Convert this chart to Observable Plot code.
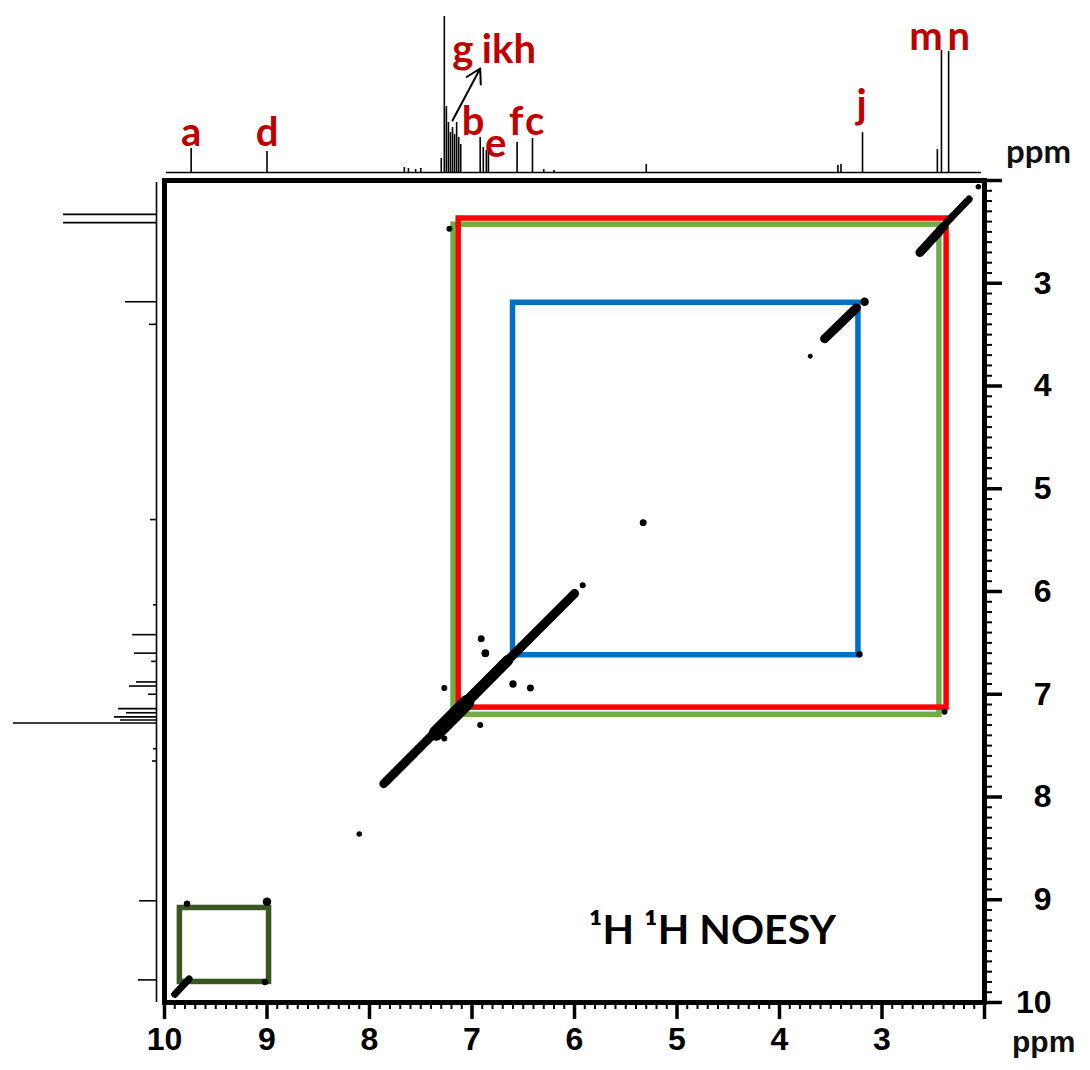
<!DOCTYPE html>
<html><head><meta charset="utf-8">
<script src="https://cdn.jsdelivr.net/npm/d3@7"></script>
<script src="https://cdn.jsdelivr.net/npm/@observablehq/plot@0.6"></script>
<style>
body{margin:0;background:#fff;}
#wrap{position:relative;width:1090px;height:1070px;overflow:hidden;background:#fff;}
#wrap > svg{position:absolute;left:0;top:0;overflow:visible;}
.ppm{position:absolute;color:#111;}
</style></head>
<body><div id="wrap"></div>
<script>
// ---------- data ----------
// 1D proton spectrum (top): peak positions (ppm) and heights (arbitrary intensity)
const topPpm = [9.74, 9.00, 7.66, 7.62, 7.55, 7.50, 7.30, 7.27, 7.25, 7.23, 7.21, 7.19, 7.17, 7.15, 7.13, 7.11, 6.92, 6.89, 6.86, 6.84, 6.56, 6.41, 6.30, 6.20, 5.30, 3.43, 3.40, 3.19, 2.46, 2.42, 2.35];
const topInt = [24, 21, 5, 4, 3, 4, 14, 156, 66, 50, 40, 45, 38, 50, 35, 28, 35, 25, 22, 20, 30, 34, 3, 2, 8, 7, 8, 40, 23, 122, 121];
const topExtent = [9.98, 2.03];
// 1D proton spectrum (left, F1)
const leftPpm = [2.33, 2.41, 3.18, 3.40, 5.30, 6.13, 6.42, 6.60, 6.68, 6.88, 6.92, 7.00, 7.14, 7.18, 7.22, 7.25, 7.28, 7.53, 7.65, 9.01, 9.78];
const leftInt = [93, 93, 31, 7, 6, 3, 24, 22, 5, 20, 27, 8, 38, 30, 42, 36, 143, 3, 4, 17, 18];
const leftExtent = [2.02, 10.0];
// peak assignment labels
const labelText = ["a", "d", "g", "ikh", "b", "e", "f", "c", "j", "m", "n"];
const labelPpm  = [9.74, 9.00, 7.09, 6.64, 6.99, 6.77, 6.57, 6.39, 3.20, 2.57, 2.25];
const labelInt  = [39, 39, 122, 122, 50, 28, 50, 50, 67, 135, 135];
const arrowFrom = [7.19, 52];
const arrowTo   = [6.92, 104];
// 2D NOESY: diagonal ridges [x1, y1, x2, y2, width]
const diagX1 = [7.86, 7.35, 7.10, 6.70, 3.56, 2.63, 2.40, 9.90];
const diagY1 = [7.87, 7.38, 7.12, 6.72, 3.54, 2.70, 2.44, 9.92];
const diagX2 = [7.32, 7.05, 6.65, 6.00, 3.25, 2.40, 2.15, 9.76];
const diagY2 = [7.33, 7.08, 6.67, 6.02, 3.24, 2.45, 2.18, 9.77];
const diagW  = [9, 15, 11, 9, 9, 9, 7, 7];
// 2D NOESY: isolated peaks (F2 ppm, F1 ppm, size)
const peakX = [2.06, 3.17, 3.70, 5.33, 5.92, 6.91, 6.87, 6.60, 6.43, 7.27, 6.92, 7.27, 8.10, 9.00, 9.78, 9.02, 7.22, 2.39, 3.22];
const peakY = [2.06, 3.18, 3.71, 5.33, 5.94, 6.46, 6.60, 6.90, 6.94, 6.94, 7.30, 7.43, 8.36, 9.02, 9.04, 9.80, 2.47, 7.17, 6.61];
const peakR = [2.5, 6, 2, 4, 3, 4, 5, 4.5, 4, 3, 3, 3, 2.5, 6, 3.5, 3.5, 3, 3, 3.5];
// correlation boxes
const boxColor = ["#70ad47", "#ff0000", "#0070c0", "#385723"];
const boxX1 = [7.18, 7.13, 6.60, 9.85];
const boxX2 = [2.44, 2.37, 3.23, 8.98];
const boxY1 = [2.43, 2.37, 3.19, 9.08];
const boxY2 = [7.20, 7.13, 6.62, 9.80];
// axes
const majorTicks = [10, 9, 8, 7, 6, 5, 4, 3, 2];
const tickLabels = ["10", "9", "8", "7", "6", "5", "4", "3", ""];
const minorTicks = d3.range(20, 101).map(d => d / 10).filter(d => !majorTicks.includes(d));
const annotation = "¹H ¹H NOESY";
const annotationAt = [5.86, 9.30];

// ---------- tables ----------
const topSpec = topPpm.map((p, i) => ({ppm: p, h: topInt[i]}));
const leftSpec = leftPpm.map((p, i) => ({ppm: p, h: leftInt[i]}));
const labels = labelText.map((t, i) => ({t, ppm: labelPpm[i], h: labelInt[i]}));
const diag = diagX1.map((x, i) => ({x1: x, y1: diagY1[i], x2: diagX2[i], y2: diagY2[i], w: diagW[i]}));
const peaks = peakX.map((x, i) => ({x, y: peakY[i], r: peakR[i]}));
const boxes = boxColor.map((c, i) => ({c, x1: boxX1[i], x2: boxX2[i], y1: boxY1[i], y2: boxY2[i]}));
const labelOf = d => tickLabels[majorTicks.indexOf(d)];

const W = 1090, H = 1070, ML = 164, MR = 106, MT = 180, MB = 68;
const axisFont = {fontFamily: "'Liberation Sans Narrow', 'Liberation Sans', Arial, sans-serif", fontSize: 32, fontWeight: "bold"};

const main = Plot.plot({
  width: W, height: H, marginLeft: ML, marginRight: MR, marginTop: MT, marginBottom: MB,
  x: {domain: [10, 2]}, y: {domain: [10, 2]},
  color: {type: "identity"},
  style: {background: "transparent", overflow: "visible"},
  marks: [
    Plot.rect(boxes, {x1: "x1", x2: "x2", y1: "y1", y2: "y2", stroke: "c", fill: "none", strokeWidth: 5.5}),
    Plot.link(diag, {x1: "x1", y1: "y1", x2: "x2", y2: "y2", strokeWidth: "w", stroke: "black", strokeLinecap: "round"}),
    Plot.dot(peaks, {x: "x", y: "y", r: "r", fill: "black"}),
    Plot.text([annotation], {x: annotationAt[0], y: annotationAt[1], text: d => d, textAnchor: "start",
      fontFamily: "Lato, 'Open Sans', sans-serif", fontSize: 41, fontWeight: "bold", fill: "black"}),
    Plot.axisX({ticks: minorTicks, tickSize: 7, strokeWidth: 2, text: null, label: null}),
    Plot.axisX({ticks: majorTicks, tickSize: 17, strokeWidth: 3.5, tickFormat: labelOf, tickPadding: 8, label: null, ...axisFont}),
    Plot.axisY({anchor: "right", ticks: minorTicks, tickSize: 7, strokeWidth: 2, text: null, label: null}),
    Plot.axisY({anchor: "right", ticks: majorTicks, tickSize: 17, strokeWidth: 3.5, tickFormat: labelOf,
      tickPadding: 50, textAnchor: "end", label: null, ...axisFont}),
    Plot.frame({stroke: "black", strokeWidth: 5})
  ]
});

const topPlot = Plot.plot({
  width: W, height: MT, marginLeft: ML, marginRight: MR, marginTop: 0, marginBottom: 8,
  x: {domain: [10, 2], axis: null}, y: {domain: [0, 172], axis: null},
  style: {background: "transparent", overflow: "visible"},
  marks: [
    Plot.ruleY([0], {x1: topExtent[0], x2: topExtent[1], stroke: "black", strokeWidth: 1.6}),
    Plot.ruleX(topSpec, {x: "ppm", y1: 0, y2: "h", stroke: "black", strokeWidth: 1.6}),
    Plot.arrow([0], {x1: arrowFrom[0], y1: arrowFrom[1], x2: arrowTo[0], y2: arrowTo[1], stroke: "black", strokeWidth: 2, headLength: 12, bend: 0}),
    Plot.text(labels, {x: "ppm", y: "h", text: "t", fill: "#c00000", fontSize: 40, fontWeight: "bold",
      fontFamily: "Lato, 'Open Sans', sans-serif"})
  ]
});

const leftPlot = Plot.plot({
  width: ML, height: H, marginLeft: 0, marginRight: 8, marginTop: MT, marginBottom: MB,
  x: {domain: [156, 0], axis: null}, y: {domain: [10, 2], axis: null},
  style: {background: "transparent", overflow: "visible"},
  marks: [
    Plot.ruleX([0], {y1: leftExtent[0], y2: leftExtent[1], stroke: "black", strokeWidth: 1.6}),
    Plot.ruleY(leftSpec, {y: "ppm", x1: 0, x2: "h", stroke: "black", strokeWidth: 1.6})
  ]
});

const wrap = document.getElementById("wrap");
wrap.append(main, topPlot, leftPlot);

function addText(txt, left, top, size, family) {
  const d = document.createElement("div");
  d.className = "ppm";
  d.textContent = txt;
  d.style.left = left + "px"; d.style.top = top + "px";
  d.style.fontSize = size + "px"; d.style.fontFamily = family; d.style.fontWeight = "bold";
  wrap.append(d);
}
addText("ppm", 1006, 130, 33, "Lato, sans-serif");
addText("ppm", 1012, 1025, 30, "'Liberation Sans Narrow', 'Liberation Sans', Arial, sans-serif");
</script>
</body></html>
